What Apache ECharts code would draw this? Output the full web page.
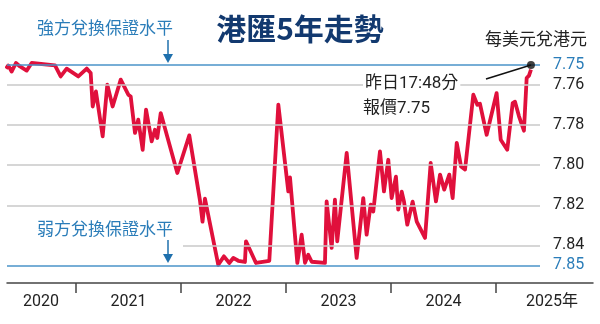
<!DOCTYPE html>
<html>
<head>
<meta charset="utf-8">
<script src="https://cdn.jsdelivr.net/npm/echarts@6/dist/echarts.min.js"></script>
<style>
  html, body { margin: 0; padding: 0; background: #fff; }
  #chart { width: 600px; height: 324px; }
</style>
</head>
<body>
<div id="chart"></div>
<script>
// USD/HKD spot rate, sampled dates as fractional years
const yearFrac = [
  2020.333, 2020.355, 2020.387, 2020.428, 2020.467, 2020.530, 2020.578, 2020.800,
  2020.854, 2020.911, 2021.022, 2021.102, 2021.140, 2021.159, 2021.190, 2021.254,
  2021.298, 2021.349, 2021.426, 2021.498, 2021.521, 2021.562, 2021.593, 2021.635,
  2021.667, 2021.721, 2021.752, 2021.774, 2021.807, 2021.965, 2022.079, 2022.181,
  2022.205, 2022.228, 2022.355, 2022.409, 2022.460, 2022.498, 2022.546, 2022.609,
  2022.619, 2022.714, 2022.841, 2022.927, 2023.022, 2023.038, 2023.108, 2023.149,
  2023.181, 2023.212, 2023.245, 2023.371, 2023.387, 2023.435, 2023.466, 2023.488,
  2023.578, 2023.673, 2023.736, 2023.768, 2023.806, 2023.831, 2023.895, 2023.933,
  2023.974, 2024.006, 2024.047, 2024.069, 2024.102, 2024.124, 2024.155, 2024.206,
  2024.245, 2024.324, 2024.378, 2024.428, 2024.467, 2024.507, 2024.555, 2024.587,
  2024.626, 2024.667, 2024.705, 2024.784, 2024.822, 2024.847, 2024.911, 2025.006,
  2025.045, 2025.107, 2025.159, 2025.181, 2025.219, 2025.266, 2025.292, 2025.314,
  2025.333
];
const usdHkd = [
  7.7518, 7.7502, 7.7533, 7.7490, 7.7507, 7.7528, 7.7490, 7.7502,
  7.7557, 7.7518, 7.7557, 7.7518, 7.7540, 7.7707, 7.7632, 7.7856,
  7.7598, 7.7707, 7.7573, 7.7648, 7.7657, 7.7839, 7.7773, 7.7923,
  7.7723, 7.7881, 7.7823, 7.7864, 7.7740, 7.8039, 7.7851, 7.8177,
  7.8282, 7.8167, 7.8497, 7.8455, 7.8488, 7.8463, 7.8477, 7.8483,
  7.8380, 7.8488, 7.8477, 7.7698, 7.8131, 7.8061, 7.8488, 7.8347,
  7.8487, 7.8447, 7.8482, 7.8488, 7.8181, 7.8413, 7.8172, 7.8380,
  7.7939, 7.8463, 7.8164, 7.8347, 7.8197, 7.8231, 7.7931, 7.8131,
  7.7973, 7.8164, 7.8057, 7.8222, 7.8132, 7.8182, 7.8297, 7.8182,
  7.8282, 7.8363, 7.7989, 7.8181, 7.8047, 7.8122, 7.8047, 7.8164,
  7.7889, 7.8006, 7.8022, 7.7648, 7.7698, 7.7693, 7.7848, 7.7640,
  7.7873, 7.7923, 7.7690, 7.7683, 7.7756, 7.7828, 7.7565, 7.7553,
  7.7523
];
// Latest quote
const latestQuote = 7.75;

// Peg band limits and reference gridlines
const strongSide = 7.75;
const weakSide = 7.85;
const gridValues = [7.76, 7.78, 7.80, 7.82, 7.84];
const yTickLabels = [7.75, 7.76, 7.78, 7.80, 7.82, 7.84, 7.85];

// Year axis
const yearTicks = [2021, 2022, 2023, 2024, 2025];
const yearLabels = ['2020', '2021', '2022', '2023', '2024', '2025年'];
const yearLabelPos = [2020.667, 2021.5, 2022.5, 2023.5, 2024.5, 2025.533];

const NUM_FONT = 'Roboto, "Noto Sans CJK TC", sans-serif';
const CJK_FONT = '"Noto Sans CJK TC", "Noto Sans", sans-serif';
const BLUE = '#2b7db9';
const RED = '#e0103c';

// Plot extents (fractional years) for the data grid and the wider axis grid
const xMin = 2020.3429;
const xMaxPlot = 2025.419;
const xMaxAxis = 2025.924;
const yMin = 7.745;
const yMax = 7.8588;

const chart = echarts.init(document.getElementById('chart'), null, { renderer: 'canvas' });

const lineData = yearFrac.map((x, i) => [x, usdHkd[i]]);
const lastX = yearFrac[yearFrac.length - 1];

const option = {
  animation: false,
  backgroundColor: '#fff',
  grid: [
    { left: 7, right: 60, top: 55, height: 228 },
    { left: 7, right: 7, top: 55, height: 228 }
  ],
  xAxis: [
    { type: 'value', gridIndex: 0, min: xMin, max: xMaxPlot, show: false },
    {
      type: 'value', gridIndex: 1, min: xMin, max: xMaxAxis,
      axisLine: { show: true, lineStyle: { color: '#444', width: 1.5 } },
      axisTick: { show: true, customValues: yearTicks, length: 10, lineStyle: { color: '#444', width: 1.5 } },
      axisLabel: {
        show: true, customValues: yearLabelPos, margin: 11,
        fontFamily: NUM_FONT, fontSize: 16, color: '#222',
        formatter: (v) => yearLabels[yearLabelPos.indexOf(v)]
      },
      splitLine: { show: false }
    }
  ],
  yAxis: [
    {
      type: 'value', gridIndex: 0, inverse: true, min: yMin, max: yMax, position: 'right',
      axisLine: { show: false }, axisTick: { show: false }, splitLine: { show: false },
      axisLabel: {
        customValues: yTickLabels, margin: 13,
        fontFamily: NUM_FONT, fontSize: 16,
        color: (v) => (Math.abs(v - strongSide) < 1e-6 || Math.abs(v - weakSide) < 1e-6) ? BLUE : '#222',
        formatter: (v) => Number(v).toFixed(2)
      }
    },
    { type: 'value', gridIndex: 1, min: yMin, max: yMax, show: false }
  ],
  series: [
    {
      // reference lines behind the rate line
      type: 'line', xAxisIndex: 0, yAxisIndex: 0, data: [], z: 1, silent: true,
      markLine: {
        silent: true, symbol: 'none', label: { show: false },
        data: [
          ...gridValues.slice(0, 4).map(v => ({ yAxis: v, lineStyle: { color: '#c9c9c9', width: 1.5, type: 'solid' } })),
          [
            { coord: [xMin + 176 / 105, gridValues[4]], lineStyle: { color: '#c9c9c9', width: 1.5, type: 'solid' } },
            { coord: [xMaxPlot, gridValues[4]] }
          ],
          { yAxis: strongSide, lineStyle: { color: '#4a93c8', width: 1.5, type: 'solid' } },
          { yAxis: weakSide, lineStyle: { color: '#4a93c8', width: 1.5, type: 'solid' } }
        ]
      }
    },
    {
      type: 'line', xAxisIndex: 0, yAxisIndex: 0, z: 3,
      data: lineData, symbol: 'none', smooth: false,
      lineStyle: { color: RED, width: 3.8, join: 'round' }
    },
    {
      type: 'scatter', xAxisIndex: 0, yAxisIndex: 0, z: 5,
      data: [[lastX, latestQuote]], symbol: 'circle', symbolSize: 8,
      itemStyle: { color: '#111' }
    }
  ],
  graphic: [
    {
      id: 'title', type: 'text', left: 'center', top: 14,
      style: { text: '港匯5年走勢', font: 'bold 30px ' + CJK_FONT, fill: '#12396f' }
    },
    {
      id: 'unit', type: 'text', x: 485, y: 39,
      style: { text: '每美元兌港元', font: '17px ' + CJK_FONT, fill: '#222', verticalAlign: 'middle' }
    },
    {
      id: 'strongLabel', type: 'text', x: 37, y: 28,
      style: { text: '強方兌換保證水平', font: '17px ' + CJK_FONT, fill: BLUE, verticalAlign: 'middle' }
    },
    { id: 'strongArrowLine', type: 'line', shape: { x1: 168, y1: 40, x2: 168, y2: 56 }, style: { stroke: '#1f70ad', lineWidth: 1.5 } },
    { id: 'strongArrowHead', type: 'polygon', shape: { points: [[163, 54], [173, 54], [168, 63]] }, style: { fill: '#1f70ad' } },
    {
      id: 'weakLabel', type: 'text', x: 37, y: 229,
      style: { text: '弱方兌換保證水平', font: '17px ' + CJK_FONT, fill: BLUE, verticalAlign: 'middle' }
    },
    { id: 'weakArrowLine', type: 'line', shape: { x1: 168, y1: 240, x2: 168, y2: 256 }, style: { stroke: '#1f70ad', lineWidth: 1.5 } },
    { id: 'weakArrowHead', type: 'polygon', shape: { points: [[163, 254], [173, 254], [168, 263]] }, style: { fill: '#1f70ad' } },
    {
      id: 'quoteTime', type: 'text', x: 363, y: 84, z: 10,
      style: {
        text: '昨日17:48分', font: '17px ' + NUM_FONT, fill: '#222', verticalAlign: 'middle',
        backgroundColor: '#fff', padding: [0, 2, 0, 2]
      }
    },
    {
      id: 'quoteValue', type: 'text', x: 363, y: 109, z: 10,
      style: { text: '報價7.75', font: '17px ' + NUM_FONT, fill: '#222', verticalAlign: 'middle' }
    }
  ]
};

chart.setOption(option);

// Leader line from the latest-quote dot to its caption
const dotPx = chart.convertToPixel({ gridIndex: 0 }, [lastX, latestQuote]);
const elements = option.graphic.concat([{
  id: 'leader', type: 'line', z: 10,
  shape: { x1: dotPx[0], y1: dotPx[1], x2: 486, y2: 79 },
  style: { stroke: '#111', lineWidth: 1.5 }
}]);
chart.setOption({ graphic: { elements: elements } }, { replaceMerge: ['graphic'] });
</script>
</body>
</html>
